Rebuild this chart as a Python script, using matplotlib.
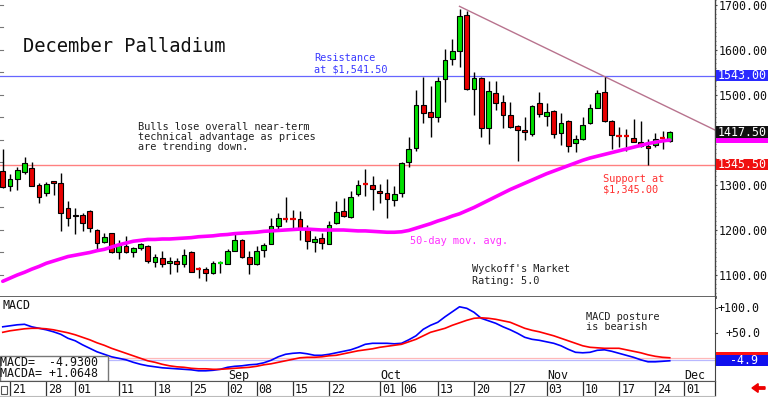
import numpy as np
import pandas as pd
import matplotlib
matplotlib.use("Agg")
import matplotlib.pyplot as plt
from matplotlib.patches import Rectangle, FancyArrow
from matplotlib import transforms
from matplotlib.ticker import MultipleLocator, FixedLocator

plt.rcParams['font.family'] = ['DejaVu Sans Mono', 'DejaVu Sans']

TITLE = "December Palladium"

# ---- data ----
OPEN = [1331, 1298, 1313, 1329, 1338, 1300, 1282, 1309, 1304, 1248,
        1234, 1233, 1242, 1200, 1174, 1193, 1150, 1164, 1152, 1159,
        1164, 1128, 1137, 1126, 1132, 1124, 1152, 1115, 1113, 1104,
        1126, 1124, 1154, 1178, 1141, 1124, 1156, 1169, 1208, 1226,
        1225, 1225, 1202, 1173, 1182, 1169, 1216, 1243, 1228, 1280,
        1302, 1300, 1287, 1283, 1267, 1282, 1350, 1382, 1478, 1463,
        1452, 1535, 1579, 1598, 1678, 1513, 1537, 1427, 1505, 1484,
        1456, 1430, 1422, 1413, 1482, 1453, 1464, 1415, 1443, 1393,
        1402, 1437, 1472, 1506, 1442, 1409, 1409, 1404, 1396, 1387,
        1388, 1404, 1398]
HIGH = [1380, 1324, 1340, 1362, 1351, 1305, 1307, 1309, 1326, 1265,
        1248, 1238, 1244, 1202, 1193, 1193, 1178, 1187, 1163, 1172,
        1167, 1146, 1153, 1139, 1138, 1157, 1153, 1117, 1117, 1131,
        1130, 1157, 1193, 1180, 1153, 1164, 1172, 1227, 1237, 1274,
        1244, 1243, 1211, 1187, 1193, 1220, 1264, 1272, 1287, 1310,
        1335, 1320, 1302, 1313, 1298, 1352, 1407, 1511, 1541, 1520,
        1541, 1602, 1624, 1692, 1687, 1552, 1541, 1531, 1530, 1500,
        1485, 1433, 1450, 1478, 1506, 1483, 1467, 1459, 1444, 1411,
        1452, 1481, 1511, 1541, 1444, 1428, 1424, 1446, 1443, 1402,
        1415, 1420, 1421]
LOW = [1293, 1287, 1289, 1324, 1298, 1260, 1276, 1278, 1198, 1209,
       1191, 1198, 1196, 1156, 1170, 1148, 1136, 1148, 1141, 1156,
       1127, 1118, 1118, 1102, 1107, 1118, 1107, 1093, 1087, 1102,
       1105, 1124, 1154, 1137, 1102, 1122, 1139, 1169, 1198, 1218,
       1200, 1178, 1157, 1152, 1157, 1168, 1213, 1228, 1227, 1276,
       1276, 1244, 1261, 1226, 1253, 1273, 1341, 1376, 1438, 1407,
       1441, 1485, 1567, 1563, 1510, 1456, 1407, 1390, 1467, 1426,
       1426, 1354, 1400, 1409, 1450, 1432, 1404, 1389, 1374, 1374,
       1400, 1436, 1471, 1441, 1379, 1384, 1376, 1395, 1384, 1345,
       1384, 1379, 1396]
CLOSE = [1296, 1313, 1333, 1349, 1298, 1274, 1302, 1304, 1237, 1227,
         1230, 1216, 1204, 1172, 1185, 1152, 1169, 1152, 1161, 1168,
         1130, 1141, 1124, 1132, 1124, 1144, 1107, 1113, 1105, 1127,
         1127, 1153, 1178, 1139, 1124, 1154, 1167, 1209, 1226, 1224,
         1224, 1204, 1176, 1179, 1172, 1211, 1240, 1232, 1274, 1300,
         1301, 1290, 1282, 1268, 1279, 1348, 1379, 1478, 1459, 1450,
         1531, 1578, 1598, 1676, 1513, 1537, 1427, 1509, 1482, 1456,
         1428, 1422, 1418, 1476, 1458, 1463, 1413, 1437, 1387, 1403,
         1433, 1470, 1504, 1442, 1411, 1408, 1408, 1396, 1387, 1382,
         1403, 1403, 1417.5]
MA50 = [1086, 1093, 1100, 1106, 1113, 1119, 1126, 1131, 1136, 1141,
        1144, 1147, 1150, 1154, 1157, 1162, 1167, 1171, 1175, 1177,
        1179, 1179, 1180, 1180, 1181, 1182, 1183, 1185, 1186, 1187,
        1189, 1190, 1192, 1193, 1194, 1195, 1197, 1198, 1199, 1200,
        1201, 1202, 1202, 1201, 1200, 1200, 1200, 1200, 1199, 1198,
        1198, 1197, 1196, 1195, 1195, 1196, 1199, 1204, 1209, 1214,
        1220, 1225, 1231, 1236, 1243, 1250, 1258, 1266, 1274, 1282,
        1290, 1297, 1304, 1311, 1318, 1325, 1331, 1337, 1343, 1349,
        1355, 1360, 1364, 1368, 1372, 1376, 1380, 1384, 1388, 1392,
        1395, 1398, 1400]
MACD = [63, 65, 67, 68, 63, 60, 57, 53, 48, 40,
        35, 27, 20, 13, 8, 3, 0, -3, -8, -12,
        -15, -17, -19, -20, -21, -22, -23, -25, -25, -24,
        -22, -18, -16, -15, -13, -12, -9, -4, 3, 8,
        10, 11, 9, 6, 6, 8, 11, 14, 17, 22,
        28, 30, 30, 30, 29, 30, 37, 45, 58, 66,
        72, 83, 93, 103, 100, 92, 80, 75, 70, 63,
        57, 50, 42, 38, 36, 33, 30, 25, 18, 12,
        11, 12, 16, 17, 14, 10, 6, 2, -3, -7,
        -7, -6, -4.93]
MACDA = [52, 55, 57, 59, 60, 60, 59, 57, 54, 51,
         47, 42, 37, 31, 26, 20, 15, 10, 5, 0,
         -5, -8, -12, -15, -17, -18, -20, -21, -21, -22,
         -22, -21, -20, -19, -18, -16, -13, -11, -8, -5,
         -2, 1, 2, 2, 3, 5, 6, 9, 12, 15,
         17, 19, 22, 24, 26, 28, 33, 38, 45, 52,
         56, 60, 66, 71, 76, 80, 81, 80, 78, 75,
         72, 66, 60, 56, 53, 49, 45, 40, 35, 30,
         25, 22, 21, 20, 20, 20, 17, 14, 11, 7,
         4, 2, 1.0648]

RESISTANCE = 1543.00
SUPPORT = 1345.50
LAST = 1417.50
TREND_POINTS = [("2025-10-16", 1697.0), ("2025-11-13", 1541.0)]

PRICE_TICKS = [1100, 1200, 1300, 1500, 1600, 1700]
MACD_TICKS = [50, 100]
TICK_DATES = ["2025-07-21", "2025-07-28", "2025-08-01", "2025-08-11", "2025-08-18",
              "2025-08-25", "2025-09-02", "2025-09-08", "2025-09-15", "2025-09-22",
              "2025-10-01", "2025-10-06", "2025-10-13", "2025-10-20", "2025-10-27",
              "2025-11-03", "2025-11-10", "2025-11-17", "2025-11-24", "2025-12-01"]
MONTH_LABELS = [("2025-09-02", "Sep"), ("2025-10-01", "Oct"),
                ("2025-11-03", "Nov"), ("2025-12-01", "Dec")]

# trading calendar (holidays: Labor Day, Thanksgiving)
axis_dates = pd.bdate_range("2025-07-18", "2025-12-05")
axis_dates = axis_dates[~axis_dates.isin(pd.to_datetime(["2025-09-01", "2025-11-27"]))]
POS = {d.strftime("%Y-%m-%d"): i + 1 for i, d in enumerate(axis_dates)}
ks = np.arange(1, len(CLOSE) + 1)

# ---- figure ----
W, H = 768, 397
fig = plt.figure(figsize=(W / 100, H / 100), dpi=100)
fig.patch.set_facecolor("white")


def fr(x0, y0, x1, y1):
    return [x0 / W, 1 - y1 / H, (x1 - x0) / W, (y1 - y0) / H]


def fx(px):
    return px / W


def fy(py):
    return 1 - py / H


ax = fig.add_axes(fr(0, 0, 715, 297))
axm = fig.add_axes(fr(0, 297, 715, 381))
axd = fig.add_axes(fr(0, 381, 715, 396))

XL = (0.62, 99.24)
for a in (ax, axm, axd):
    a.set_xlim(*XL)
    a.set_facecolor("white")

ax.set_ylim(1051.1, 1711.1)
axm.set_ylim(-45.4, 122.6)
axd.set_ylim(0, 1)

GREEN = "#00e000"
RED = "#e80000"

# candles
for x, o, h, l, c in zip(ks, OPEN, HIGH, LOW, CLOSE):
    col = GREEN if c >= o else RED
    ax.vlines(x, l, h, color="black", lw=1.0, zorder=3)
    if abs(c - o) < 4:
        ax.hlines((o + c) / 2, x - 0.38, x + 0.38, color=col, lw=1.6, zorder=4)
    else:
        ax.add_patch(Rectangle((x - 0.34, min(o, c)), 0.68, abs(c - o),
                               fc=col, ec="black", lw=0.8, zorder=4))

# lines
ax.axhline(RESISTANCE, color="#6666ff", lw=0.9, zorder=2)
ax.axhline(SUPPORT, color="#ff8080", lw=1.0, zorder=2)
ax.plot(ks, MA50, color="#ff00ff", lw=2.6, zorder=5, solid_capstyle="round")
(d0, p0), (d1, p1) = TREND_POINTS
x0t, x1t = POS[d0], POS[d1]
slope = (p1 - p0) / (x1t - x0t)
ax.plot([x0t, XL[1]], [p0, p0 + slope * (XL[1] - x0t)], color="#b8738e", lw=1.0, zorder=2)

# axes styling (main)
for s in ("top", "left"):
    ax.spines[s].set_visible(False)
ax.spines["right"].set_color("#444444")
ax.spines["right"].set_linewidth(1.0)
ax.spines["bottom"].set_color("#555555")
ax.spines["bottom"].set_linewidth(2.0)
ax.set_xticks([])
ax.yaxis.tick_right()
ax.yaxis.set_major_locator(FixedLocator(PRICE_TICKS))
ax.set_yticklabels(["%.2f" % v for v in PRICE_TICKS])
ax.yaxis.set_minor_locator(MultipleLocator(10))
ax.tick_params(axis="y", which="major", direction="out", length=1.5, width=0.8,
               pad=0.9, labelsize=8.4, colors="#444444", labelcolor="#111111")
ax.tick_params(axis="y", which="minor", direction="out", length=1.0, width=0.6,
               colors="#666666")
# small left ticks
bl = transforms.blended_transform_factory(ax.transAxes, ax.transData)
for v in range(1100, 1751, 50):
    ax.plot([0, 0.004], [v, v], color="#777777", lw=0.8, transform=bl, clip_on=False)

# highlighted price labels on right
bfd = transforms.blended_transform_factory(fig.transFigure, ax.transData)
for val, fc, show, hpx in ((MA50[-1], "#ff00ff", False, 6.0), (LAST, "#111111", True, 11.5),
                           (RESISTANCE, "#2a2aff", True, 11.5), (SUPPORT, "#f01010", True, 11.5)):
    hh = hpx / 0.45
    fig.add_artist(Rectangle((fx(716), val - hh / 2), fx(768) - fx(716), hh,
                             transform=bfd, fc=fc, ec="none", zorder=2))
    if show:
        fig.text(fx(718), 0, "%.2f" % val, transform=bfd, color="white", fontsize=8.4,
                 va="center", ha="left", zorder=3).set_y(val)

# MACD panel
axm.plot(ks, MACD, color="#0000ff", lw=1.2, zorder=3)
axm.plot(ks, MACDA, color="#ff0000", lw=1.2, zorder=3)
axm.axhline(MACDA[-1], color="#ffb8b8", lw=0.9, zorder=1)
axm.axhline(MACD[-1] + 1.5, color="#b8b8ff", lw=0.9, zorder=1)
for s in ("top", "left"):
    axm.spines[s].set_visible(False)
axm.spines["right"].set_color("#444444")
axm.spines["bottom"].set_color("#444444")
axm.set_xticks([])
axm.set_yticks([])
bfm = transforms.blended_transform_factory(fig.transFigure, axm.transData)
for v in MACD_TICKS:
    fig.text(fx(760), 0, "%+.1f" % v, transform=bfm, fontsize=8.4, ha="right",
             va="center", color="#111111").set_y(v)
    fig.add_artist(plt.Line2D([fx(715), fx(717)], [v, v], transform=bfm, color="#444444", lw=0.8))
for val, fc in ((MACDA[-1], "#ff1010"), (MACD[-1], "#1010ee")):
    hh = 11.0 / 0.5
    fig.add_artist(Rectangle((fx(716), val - hh / 2), fx(768) - fx(716), hh,
                             transform=bfm, fc=fc, ec="none", zorder=2))
fig.text(fx(758), 0, "%.1f" % MACD[-1], transform=bfm, color="white", fontsize=8.4,
         ha="right", va="center", zorder=3).set_y(MACD[-1])

axm.text(0.003, 0.9, "MACD", transform=axm.transAxes, fontsize=8.4, va="center",
         ha="left", color="#111111")
# value box
axm.add_patch(Rectangle((0, 0), 108 / 715, (381 - 356) / 84, transform=axm.transAxes,
                        fc="white", ec="#777777", lw=1.0, zorder=6, clip_on=False))
axm.text(0.0, (381 - 362) / 84, "MACD=  %.4f" % MACD[-1], transform=axm.transAxes,
         fontsize=8.4, va="center", ha="left", zorder=7, color="#111111")
axm.text(0.0, (381 - 373.5) / 84, "MACDA= %+.4f" % MACDA[-1], transform=axm.transAxes,
         fontsize=8.4, va="center", ha="left", zorder=7, color="#111111")
bm = transforms.blended_transform_factory(axm.transData, axm.transAxes)
for d, lab in MONTH_LABELS:
    axm.text(POS[d] + 0.05, (381 - 375.5) / 84, lab, transform=bm, fontsize=8.4,
             va="center", ha="left", color="#111111")

# date row
for s in ("left", "right"):
    axd.spines[s].set_visible(False)
axd.spines["top"].set_color("#555555")
axd.spines["bottom"].set_color("#bbbbbb")
axd.set_xticks([])
axd.set_yticks([])
for d in TICK_DATES:
    k = POS[d]
    axd.vlines(k, 0, 1, color="#333333", lw=0.9)
    axd.text(k + 0.3, 0.45, d[-2:], fontsize=8.4, va="center", ha="left", color="#111111")
axd.vlines(XL[1], 0, 1, color="#333333", lw=0.9, clip_on=False)
axd.add_patch(Rectangle((0.002, 0.15), 0.008, 0.55, transform=axd.transAxes,
                        fc="white", ec="#555555", lw=0.8))
# red arrow bottom right
fig.add_artist(FancyArrow(fx(765), fy(388), fx(752) - fx(765), 0, width=0.006,
                          head_width=0.022, head_length=0.008, length_includes_head=True,
                          color="#ee0000", transform=fig.transFigure))

# annotations
fig.text(fx(23), fy(46), TITLE, fontsize=13.5, ha="left", va="center", color="#111111")


def lines(x, y0, dy, txts, color, size=7.4):
    for i, t in enumerate(txts):
        fig.text(fx(x), fy(y0 + i * dy), t, fontsize=size, ha="left", va="center", color=color)


lines(138, 126.5, 10.5, ["Bulls lose overall near-term",
                         "technical advantage as prices",
                         "are trending down."], "#222222")
lines(314, 58, 11, ["Resistance", "at $1,541.50"], "#3a3aff")
lines(410, 241, 11, ["50-day mov. avg."], "#ff30ff")
lines(472, 268.5, 12, ["Wyckoff's Market", "Rating: 5.0"], "#222222")
lines(603, 179, 10.5, ["Support at", "$1,345.00"], "#ff3030")
lines(586, 317, 10.5, ["MACD posture", "is bearish"], "#222222")

fig.savefig("out.png", dpi=100)
